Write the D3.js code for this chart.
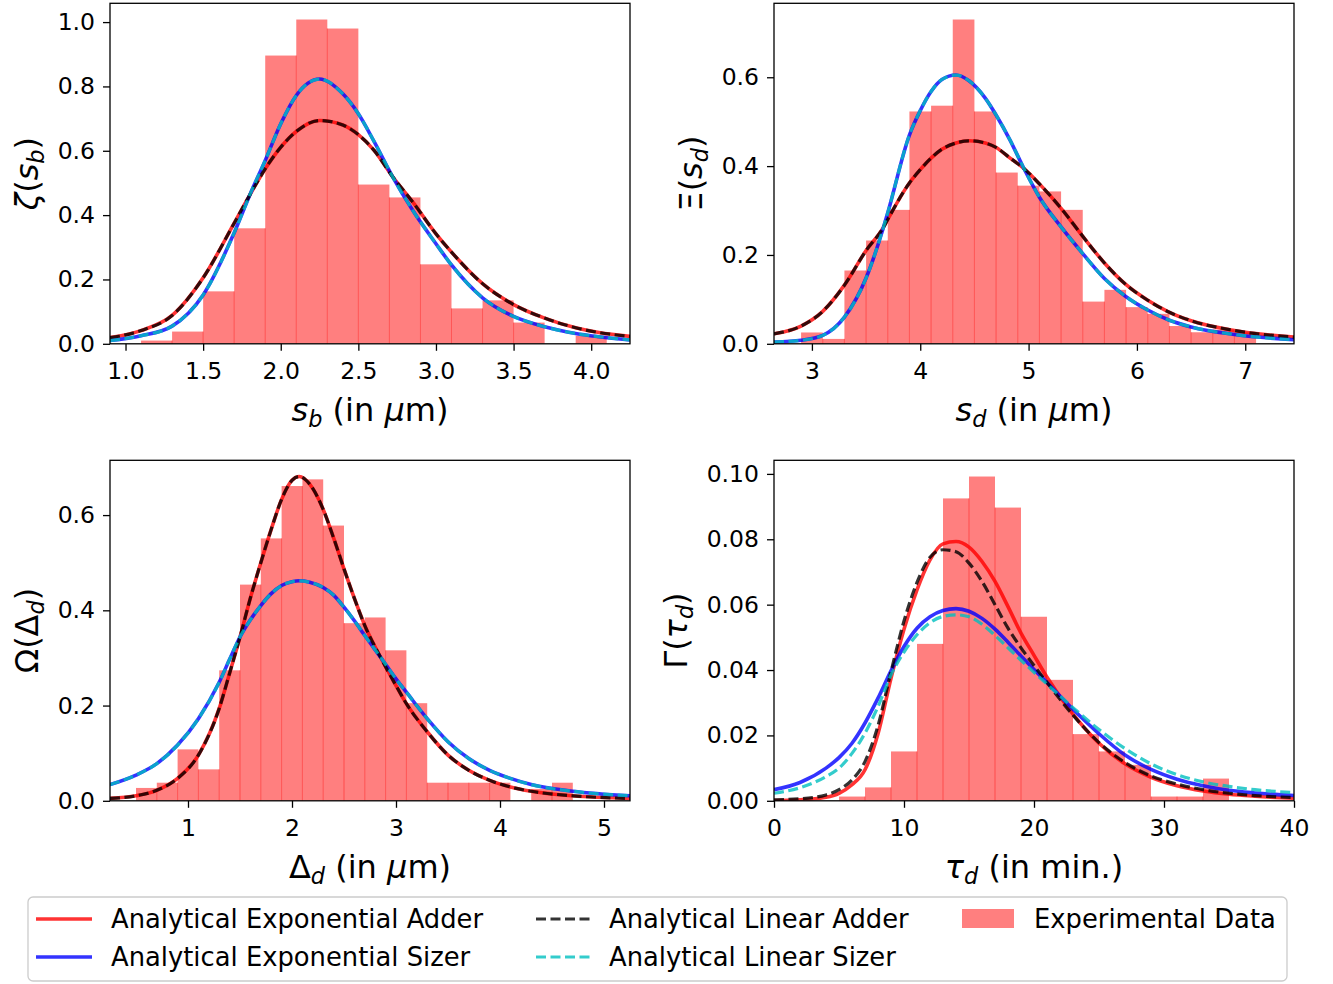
<!DOCTYPE html>
<html>
<head>
<meta charset="utf-8">
<script src="https://cdn.jsdelivr.net/npm/d3@7"></script>
<style>
  body { margin: 0; background: #fff; }
  svg { display: block; font-family: "DejaVu Sans", sans-serif; }
  text { white-space: pre; }
</style>
</head>
<body>
<svg id="fig" width="1333" height="984"></svg>
<script>
// ---------- histogram data (bin left edges, densities) ----------
const sbBins = [1.1, 1.3, 1.5, 1.7, 1.9, 2.1, 2.3, 2.5, 2.7, 2.9, 3.1, 3.3, 3.5, 3.7, 3.9];
const sbDensity = [0.010, 0.038, 0.163, 0.359, 0.896, 1.008, 0.980, 0.495, 0.455, 0.247, 0.110, 0.135, 0.066, 0, 0.025];

const sdBins = [2.9, 3.1, 3.3, 3.5, 3.7, 3.9, 4.1, 4.3, 4.5, 4.7, 4.9, 5.1, 5.3, 5.5, 5.7, 5.9, 6.1, 6.3, 6.5, 6.7, 6.9];
const sdDensity = [0.0255, 0.011, 0.165, 0.2325, 0.3015, 0.523, 0.536, 0.730, 0.523, 0.3855, 0.356, 0.343, 0.3015, 0.095, 0.1215, 0.0825, 0.0675, 0.040, 0.026, 0.032, 0.026];

const ddBins = [0.5, 0.7, 0.9, 1.1, 1.3, 1.5, 1.7, 1.9, 2.1, 2.3, 2.5, 2.7, 2.9, 3.1, 3.3, 3.5, 3.7, 3.9, 4.1, 4.3, 4.5];
const ddDensity = [0.027, 0.038, 0.108, 0.066, 0.274, 0.454, 0.551, 0.661, 0.675, 0.578, 0.373, 0.385, 0.316, 0.205, 0.038, 0.038, 0.038, 0.038, 0, 0.025, 0.038];

const tdBins = [5, 7, 9, 11, 13, 15, 17, 19, 21, 23, 25, 27, 29, 31, 33];
const tdDensity = [0.0013, 0.0041, 0.0151, 0.048, 0.0925, 0.0992, 0.0897, 0.0563, 0.037, 0.0204, 0.0151, 0.011, 0.0013, 0.0013, 0.0068];

// ---------- analytical curves ----------
// birth size s_b
const sbGrid =     [0.9, 1.1, 1.3, 1.5, 1.7, 1.8, 1.9, 2.0, 2.1, 2.25, 2.4, 2.5, 2.6, 2.72, 2.85, 3.0, 3.1, 3.3, 3.5, 3.7, 3.9, 4.05, 4.25];
const sbAdderExp = [0.019, 0.041, 0.088, 0.205, 0.375, 0.462, 0.544, 0.611, 0.660, 0.694, 0.680, 0.650, 0.602, 0.520, 0.441, 0.342, 0.285, 0.187, 0.122, 0.080, 0.050, 0.035, 0.023];
const sbAdderLin = [0.019, 0.041, 0.088, 0.205, 0.375, 0.462, 0.544, 0.611, 0.660, 0.694, 0.680, 0.650, 0.602, 0.520, 0.441, 0.342, 0.285, 0.187, 0.122, 0.080, 0.050, 0.035, 0.023];
const sbSizerExp = [0.010, 0.025, 0.055, 0.152, 0.345, 0.462, 0.570, 0.684, 0.772, 0.823, 0.777, 0.715, 0.630, 0.520, 0.415, 0.311, 0.245, 0.143, 0.085, 0.053, 0.032, 0.022, 0.012];
const sbSizerLin = [0.010, 0.025, 0.055, 0.152, 0.345, 0.462, 0.570, 0.684, 0.772, 0.823, 0.777, 0.715, 0.630, 0.520, 0.415, 0.311, 0.245, 0.143, 0.085, 0.053, 0.032, 0.022, 0.012];

// division size s_d
const sdGrid =     [2.65, 2.9, 3.1, 3.3, 3.5, 3.66, 3.7, 3.9, 4.0, 4.1, 4.2, 4.33, 4.45, 4.6, 4.7, 4.83, 4.95, 5.1, 5.3, 5.5, 5.7, 5.9, 6.1, 6.3, 6.5, 6.9, 7.45];
const sdAdderExp = [0.0225, 0.040, 0.073, 0.132, 0.210, 0.262, 0.280, 0.362, 0.392, 0.418, 0.438, 0.452, 0.457, 0.452, 0.442, 0.418, 0.396, 0.360, 0.305, 0.242, 0.182, 0.133, 0.098, 0.071, 0.052, 0.030, 0.015];
const sdAdderLin = [0.0225, 0.040, 0.073, 0.132, 0.210, 0.262, 0.280, 0.362, 0.392, 0.418, 0.438, 0.452, 0.457, 0.452, 0.442, 0.418, 0.396, 0.360, 0.305, 0.242, 0.182, 0.133, 0.098, 0.071, 0.052, 0.030, 0.015];
const sdSizerExp = [0.004, 0.008, 0.019, 0.060, 0.148, 0.262, 0.295, 0.470, 0.525, 0.568, 0.595, 0.605, 0.592, 0.553, 0.515, 0.458, 0.398, 0.330, 0.263, 0.203, 0.147, 0.106, 0.076, 0.053, 0.038, 0.021, 0.009];
const sdSizerLin = [0.004, 0.008, 0.019, 0.060, 0.148, 0.262, 0.295, 0.470, 0.525, 0.568, 0.595, 0.605, 0.592, 0.553, 0.515, 0.458, 0.398, 0.330, 0.263, 0.203, 0.147, 0.106, 0.076, 0.053, 0.038, 0.021, 0.009];

// added size Delta_d
const ddGrid =     [0.25, 0.5, 0.7, 0.9, 1.1, 1.3, 1.4, 1.5, 1.6, 1.7, 1.8, 1.9, 2.0, 2.07, 2.17, 2.3, 2.4, 2.5, 2.6, 2.7, 2.85, 3.0, 3.1, 3.3, 3.5, 3.7, 3.9, 4.1, 4.3, 4.7, 5.25];
const ddAdderExp = [0.005, 0.0105, 0.022, 0.047, 0.096, 0.194, 0.268, 0.344, 0.426, 0.500, 0.570, 0.633, 0.673, 0.681, 0.665, 0.612, 0.552, 0.487, 0.425, 0.368, 0.302, 0.242, 0.204, 0.145, 0.096, 0.064, 0.043, 0.029, 0.020, 0.0105, 0.005];
const ddAdderLin = [0.005, 0.0105, 0.022, 0.047, 0.096, 0.194, 0.268, 0.344, 0.426, 0.500, 0.570, 0.633, 0.673, 0.681, 0.665, 0.612, 0.552, 0.487, 0.425, 0.368, 0.302, 0.242, 0.204, 0.145, 0.096, 0.064, 0.043, 0.029, 0.020, 0.0105, 0.005];
const ddSizerExp = [0.034, 0.054, 0.078, 0.117, 0.1725, 0.249, 0.297, 0.344, 0.380, 0.410, 0.435, 0.452, 0.460, 0.462, 0.459, 0.448, 0.432, 0.4065, 0.378, 0.347, 0.302, 0.256, 0.228, 0.1725, 0.124, 0.0887, 0.064, 0.047, 0.034, 0.020, 0.0105];
const ddSizerLin = [0.034, 0.054, 0.078, 0.117, 0.1725, 0.249, 0.297, 0.344, 0.380, 0.410, 0.435, 0.452, 0.460, 0.462, 0.459, 0.448, 0.432, 0.4065, 0.378, 0.347, 0.302, 0.256, 0.228, 0.1725, 0.124, 0.0887, 0.064, 0.047, 0.034, 0.020, 0.0105];

// division time tau_d
const tdGrid =     [0, 2, 4, 5, 6, 7, 8, 9, 10, 11, 12, 13, 14, 15, 16, 17, 18, 19, 20, 21, 23, 25, 27, 29, 31, 33, 35, 37, 40];
const tdAdderExp = [0.0001, 0.0003, 0.0011, 0.0023, 0.0049, 0.0095, 0.0205, 0.0375, 0.0525, 0.0645, 0.0737, 0.0786, 0.0793, 0.0776, 0.0732, 0.0671, 0.0594, 0.0513, 0.0445, 0.0378, 0.0265, 0.0176, 0.0113, 0.0072, 0.0046, 0.0030, 0.0020, 0.0014, 0.0008];
const tdAdderLin = [0.0003, 0.0006, 0.0018, 0.0034, 0.0064, 0.0120, 0.0230, 0.0395, 0.0550, 0.0668, 0.0745, 0.0768, 0.0762, 0.0727, 0.0671, 0.0600, 0.0528, 0.0468, 0.0414, 0.0362, 0.0262, 0.0178, 0.0117, 0.0076, 0.0051, 0.0034, 0.0023, 0.0016, 0.0010];
const tdSizerExp = [0.0034, 0.0056, 0.0100, 0.0132, 0.0176, 0.0238, 0.0314, 0.0398, 0.0472, 0.0528, 0.0563, 0.0582, 0.0588, 0.0580, 0.0558, 0.0525, 0.0485, 0.0443, 0.0402, 0.0362, 0.0280, 0.0205, 0.0140, 0.0096, 0.0066, 0.0046, 0.0032, 0.0024, 0.0016];
const tdSizerLin = [0.0023, 0.0040, 0.0074, 0.0100, 0.0145, 0.0207, 0.0288, 0.0385, 0.0455, 0.0508, 0.0545, 0.0564, 0.0569, 0.0563, 0.0540, 0.0506, 0.0468, 0.0430, 0.0393, 0.0357, 0.0285, 0.0218, 0.0160, 0.0113, 0.0080, 0.0058, 0.0044, 0.0034, 0.0025];

// ---------- tick labels ----------
const sbXTicks = [1.0, 1.5, 2.0, 2.5, 3.0, 3.5, 4.0];
const sbYTicks = [0.0, 0.2, 0.4, 0.6, 0.8, 1.0];
const sdXTicks = [3, 4, 5, 6, 7];
const sdYTicks = [0.0, 0.2, 0.4, 0.6];
const ddXTicks = [1, 2, 3, 4, 5];
const ddYTicks = [0.0, 0.2, 0.4, 0.6];
const tdXTicks = [0, 10, 20, 30, 40];
const tdYTicks = [0.00, 0.02, 0.04, 0.06, 0.08, 0.10];

// ---------- legend entries ----------
const seriesNames = ["Analytical Exponential Adder", "Analytical Exponential Sizer",
                     "Analytical Linear Adder", "Analytical Linear Sizer", "Experimental Data"];

// ---------- styling ----------
const FONT_TICK = 23.5, FONT_LABEL = 32, FONT_LEGEND = 25.8;
const PW = 520, PH = 340.5;
const styles = {
  ea: { stroke: "red",     width: 3.6, dash: null },
  es: { stroke: "blue",    width: 3.6, dash: null },
  la: { stroke: "black",   width: 3.2, dash: "10,4.5" },
  ls: { stroke: "#00bfbf", width: 3.2, dash: "10,4.5" }
};
const drawOrder = ["ea", "es", "la", "ls"];

const I = (t) => ({ t, i: true });
const R = (t) => ({ t });
const S = (t, i = true) => ({ t, i, sub: true });

const panels = [
  { left: 110, top: 3.3, bins: sbBins, dens: sbDensity, bw: 0.2, grid: sbGrid,
    curves: { ea: sbAdderExp, es: sbSizerExp, la: sbAdderLin, ls: sbSizerLin },
    xTicks: sbXTicks, yTicks: sbYTicks, xFmt: ".1f", yFmt: ".1f",
    xLabel: [I("s"), S("b"), R(" (in "), I("μ"), R("m)")],
    yLabel: [I("ζ"), R("("), I("s"), S("b"), R(")")], yLabelX: 38 },
  { left: 774, top: 3.3, bins: sdBins, dens: sdDensity, bw: 0.2, grid: sdGrid,
    curves: { ea: sdAdderExp, es: sdSizerExp, la: sdAdderLin, ls: sdSizerLin },
    xTicks: sdXTicks, yTicks: sdYTicks, xFmt: "d", yFmt: ".1f",
    xLabel: [I("s"), S("d"), R(" (in "), I("μ"), R("m)")],
    yLabel: [R("Ξ"), R("("), I("s"), S("d"), R(")")], yLabelX: 702 },
  { left: 110, top: 460.3, bins: ddBins, dens: ddDensity, bw: 0.2, grid: ddGrid,
    curves: { ea: ddAdderExp, es: ddSizerExp, la: ddAdderLin, ls: ddSizerLin },
    xTicks: ddXTicks, yTicks: ddYTicks, xFmt: "d", yFmt: ".1f",
    xLabel: [R("Δ"), S("d"), R(" (in "), I("μ"), R("m)")],
    yLabel: [R("Ω"), R("("), R("Δ"), S("d"), R(")")], yLabelX: 38 },
  { left: 774, top: 460.3, bins: tdBins, dens: tdDensity, bw: 2, grid: tdGrid,
    curves: { ea: tdAdderExp, es: tdSizerExp, la: tdAdderLin, ls: tdSizerLin },
    xTicks: tdXTicks, yTicks: tdYTicks, xFmt: "d", yFmt: ".2f",
    xLabel: [I("τ"), S("d"), R(" (in min.)")],
    yLabel: [R("Γ"), R("("), I("τ"), S("d"), R(")")], yLabelX: 687 }
];

const svg = d3.select("#fig");

// text with italic runs and subscripts
function mathText(sel, parts, fs) {
  const t = sel.append("text").attr("font-size", fs).attr("fill", "#000");
  let shift = 0;
  parts.forEach(p => {
    const ts = t.append("tspan").text(p.t);
    if (p.i) ts.attr("font-style", "italic");
    const target = p.sub ? fs * 0.18 : 0;
    if (target !== shift) { ts.attr("dy", target - shift); shift = target; }
    if (p.sub) ts.attr("font-size", fs * 0.7);
  });
  return t;
}

panels.forEach((p, k) => {
  const g = svg.append("g").attr("transform", `translate(${p.left},${p.top})`);
  const allY = p.dens.concat(...Object.values(p.curves));
  const x = d3.scaleLinear().domain(d3.extent(p.grid)).range([0, PW]);
  const y = d3.scaleLinear().domain([0, 1.05 * d3.max(allY)]).range([PH, 0]);

  const clipId = "clip" + k;
  g.append("clipPath").attr("id", clipId)
    .append("rect").attr("width", PW).attr("height", PH);
  const plot = g.append("g").attr("clip-path", `url(#${clipId})`);

  // histogram bars
  const bars = p.bins.map((b, i) => ({ x0: b, x1: b + p.bw, v: p.dens[i] })).filter(d => d.v > 0);
  plot.selectAll("rect.bar").data(bars).join("rect")
    .attr("class", "bar")
    .attr("x", d => x(d.x0))
    .attr("width", d => x(d.x1) - x(d.x0))
    .attr("y", d => y(d.v))
    .attr("height", d => y(0) - y(d.v))
    .attr("fill", "red").attr("fill-opacity", 0.5);

  // thin seams where neighbouring bars meet
  const seams = [];
  for (let i = 1; i < p.bins.length; i++) {
    if (p.dens[i - 1] > 0 && p.dens[i] > 0) seams.push({ x: p.bins[i], v: Math.min(p.dens[i - 1], p.dens[i]) });
  }
  plot.selectAll("line.seam").data(seams).join("line")
    .attr("class", "seam")
    .attr("x1", d => x(d.x)).attr("x2", d => x(d.x))
    .attr("y1", y(0)).attr("y2", d => y(d.v))
    .attr("stroke", "red").attr("stroke-opacity", 0.45).attr("stroke-width", 0.9);

  // model curves
  const line = d3.line().x((d, i) => x(p.grid[i])).y(d => y(d)).curve(d3.curveMonotoneX);
  drawOrder.forEach(key => {
    const s = styles[key];
    plot.append("path").datum(p.curves[key])
      .attr("d", line)
      .attr("fill", "none")
      .attr("stroke", s.stroke).attr("stroke-opacity", 0.8)
      .attr("stroke-width", s.width)
      .attr("stroke-dasharray", s.dash);
  });

  // axes
  const xAxis = d3.axisBottom(x).tickValues(p.xTicks).tickFormat(d3.format(p.xFmt))
    .tickSize(7).tickPadding(12);
  const yAxis = d3.axisLeft(y).tickValues(p.yTicks).tickFormat(d3.format(p.yFmt))
    .tickSize(7).tickPadding(8);
  const gx = g.append("g").attr("transform", `translate(0,${PH})`).call(xAxis);
  const gy = g.append("g").call(yAxis);
  [gx, gy].forEach(a => {
    a.select(".domain").remove();
    a.attr("font-family", "DejaVu Sans").attr("font-size", FONT_TICK);
    a.selectAll(".tick line").attr("stroke", "#000").attr("stroke-width", 1.3);
    a.selectAll(".tick text").attr("fill", "#000");
  });

  // frame
  g.append("rect").attr("width", PW).attr("height", PH)
    .attr("fill", "none").attr("stroke", "#000").attr("stroke-width", 1.3);

  // axis labels
  mathText(g, p.xLabel, FONT_LABEL)
    .attr("text-anchor", "middle")
    .attr("x", PW / 2).attr("y", PH + 77);
  mathText(svg, p.yLabel, FONT_LABEL)
    .attr("text-anchor", "middle")
    .attr("transform", `translate(${p.yLabelX},${p.top + PH / 2}) rotate(-90)`);
});

// ---------- legend ----------
const lg = svg.append("g");
lg.append("rect").attr("x", 28).attr("y", 897).attr("width", 1259).attr("height", 84)
  .attr("rx", 5).attr("fill", "#fff").attr("stroke", "#cccccc").attr("stroke-width", 1.3);

const legendItems = [
  { key: "ea", name: seriesNames[0], hx: 36, tx: 111, cy: 919 },
  { key: "es", name: seriesNames[1], hx: 36, tx: 111, cy: 957 },
  { key: "la", name: seriesNames[2], hx: 536, tx: 609, cy: 919 },
  { key: "ls", name: seriesNames[3], hx: 536, tx: 609, cy: 957 }
];
legendItems.forEach(it => {
  const s = styles[it.key];
  lg.append("line")
    .attr("x1", it.hx).attr("x2", it.hx + 56).attr("y1", it.cy).attr("y2", it.cy)
    .attr("stroke", s.stroke).attr("stroke-opacity", 0.8)
    .attr("stroke-width", s.width).attr("stroke-dasharray", s.dash);
  lg.append("text").attr("x", it.tx).attr("y", it.cy).attr("dy", "0.36em")
    .attr("font-size", FONT_LEGEND).text(it.name);
});
lg.append("rect").attr("x", 962).attr("y", 909).attr("width", 52).attr("height", 19)
  .attr("fill", "red").attr("fill-opacity", 0.5);
lg.append("text").attr("x", 1034).attr("y", 919).attr("dy", "0.36em")
  .attr("font-size", FONT_LEGEND).text(seriesNames[4]);
</script>
</body>
</html>
